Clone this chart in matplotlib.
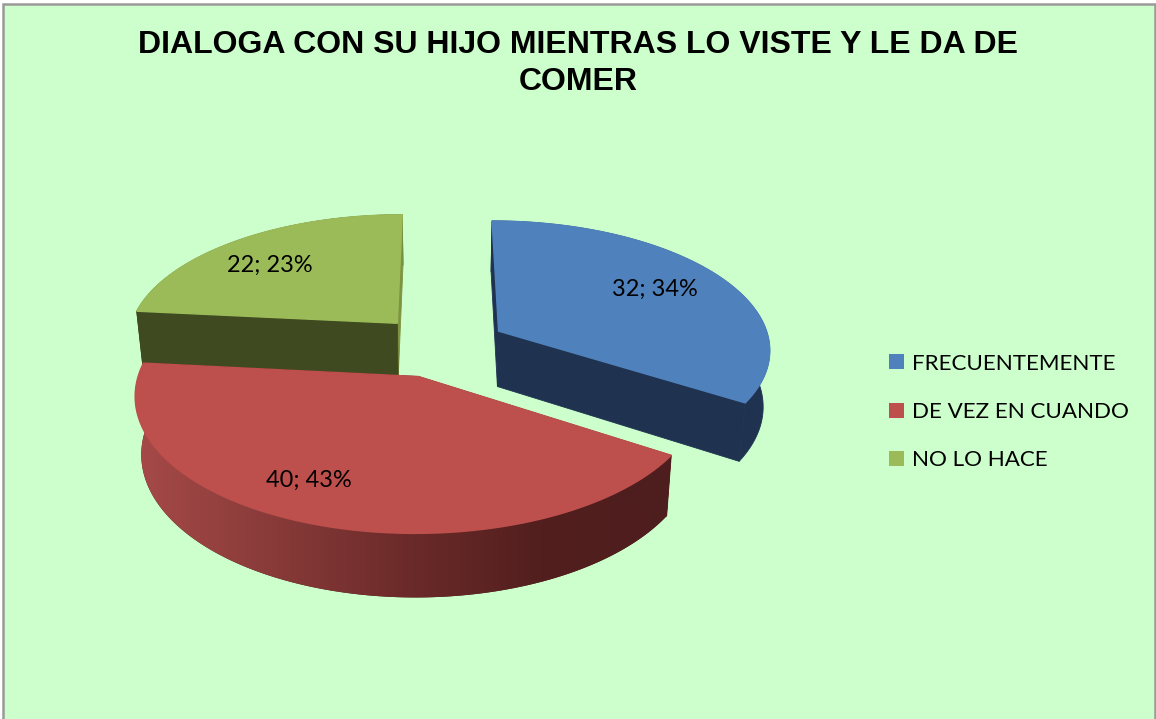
import numpy as np
import matplotlib
matplotlib.use("Agg")
import matplotlib.pyplot as plt
from matplotlib.colors import LinearSegmentedColormap
from matplotlib.patches import Polygon, Patch, Rectangle

title = "DIALOGA CON SU HIJO MIENTRAS LO VISTE Y LE DA DE\nCOMER"
categories = ["FRECUENTEMENTE", "DE VEZ EN CUANDO", "NO LO HACE"]
values = [32, 40, 22]
percents = [34, 43, 23]

top_colors = ["#4f81bd", "#bd4f4c", "#9bbb59"]
wall_colors = ["#1f3350", "#4e1d1d", "#404a20"]
end_colors = ["#1f3350", "#4e1d1d", "#7d9340"]

# picture position of the pie, in pixels
cx, cy = 441, 346
rx, ry = 272, 128
persp = 0.129
explode = 0.245
label_xy = [(655, 289), (309, 480), (270, 265)]


def project(X, Y, bottom=False):
    w = 1 + persp * Y
    sx = rx * X / w
    sy = -ry * Y / w
    if bottom:
        return cx + 0.98 * sx, cy + 56 + 1.043 * sy
    return cx + sx, cy + sy


def face(X, Y, bottom=False):
    sx, sy = project(np.asarray(X), np.asarray(Y), bottom)
    return np.column_stack([sx, sy])


fig = plt.figure(figsize=(11.56, 7.19), dpi=100, facecolor="white")
ax = fig.add_axes([0, 0, 1, 1])
ax.set_xlim(0, 1156)
ax.set_ylim(719, 0)
ax.axis("off")

ax.add_patch(Rectangle((2.5, 3.5), 1152, 730, facecolor="#ccffcc", edgecolor="#999999", lw=1.8))

total = sum(values)
edges = np.concatenate([[0], np.cumsum(values)]) / total * 2 * np.pi

# slices back to front so the red one sits on top
for i in [2, 0, 1]:
    a0, a1 = edges[i], edges[i + 1]
    mid = (a0 + a1) / 2
    ox, oy = explode * np.sin(mid), explode * np.cos(mid)
    t = np.linspace(a0, a1, 200)
    X = ox + np.sin(t)
    Y = oy + np.cos(t)

    # outer wall, the red one has no edge so the shading reaches the rim
    pts = np.vstack([face(X, Y), face(X, Y, True)[::-1]])
    wall_edge = "none" if i == 1 else wall_colors[i]
    wall = Polygon(pts, closed=True, facecolor=wall_colors[i], edgecolor=wall_edge, lw=0.6)
    ax.add_patch(wall)
    if i == 1:
        shade = LinearSegmentedColormap.from_list(
            "wall", ["#a84b49", "#8a3c3a", "#6c2b2a", "#521f1e", "#4e1d1d"])
        im = ax.imshow(np.linspace(0, 1, 256).reshape(1, -1), cmap=shade, aspect="auto",
                       extent=(125, 680, 640, 350), zorder=wall.get_zorder())
        im.set_clip_path(wall)
        ax.set_xlim(0, 1156)
        ax.set_ylim(719, 0)

    # cut faces
    for b, c in [(a1, end_colors[i]), (a0, wall_colors[i])]:
        qx = [ox, ox + np.sin(b)]
        qy = [oy, oy + np.cos(b)]
        pts = np.vstack([face(qx, qy), face(qx, qy, True)[::-1]])
        ax.add_patch(Polygon(pts, closed=True, facecolor=c, edgecolor=c, lw=0.6))

    # top
    top = np.vstack([face([ox], [oy]), face(X, Y)])
    ax.add_patch(Polygon(top, closed=True, facecolor=top_colors[i], edgecolor=top_colors[i], lw=1, zorder=3))

    # data label
    ax.text(label_xy[i][0], label_xy[i][1], f"{values[i]}; {percents[i]}%", ha="center", va="center",
            family="Lato", fontsize=16.9, color="black", zorder=5)

ax.text(578.5, 63.5, title, ha="center", va="center", family="Liberation Sans", weight="bold",
        fontsize=23, linespacing=1.27, color="black")

handles = [Patch(facecolor=c, edgecolor="none") for c in top_colors]
ax.legend(handles, categories, loc="center left", bbox_to_anchor=(889 / 1156, 1 - 412 / 719),
          frameon=False, prop={"family": "Lato", "size": 16.1}, handlelength=0.67, handleheight=0.67,
          handletextpad=0.36, labelspacing=1.27, borderpad=0, borderaxespad=0)

fig.savefig("out.png", dpi=100)
